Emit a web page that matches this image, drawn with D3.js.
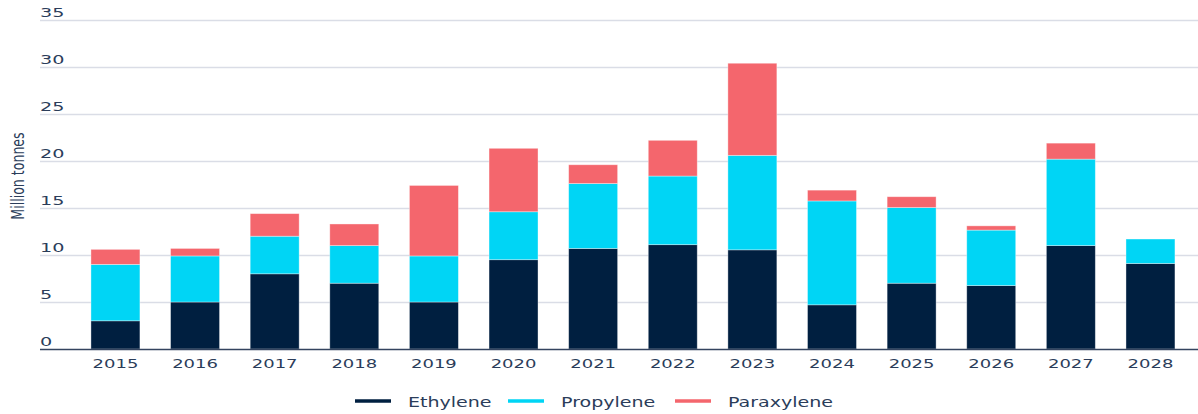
<!DOCTYPE html>
<html>
<head>
<meta charset="utf-8">
<script src="https://cdn.jsdelivr.net/npm/d3@7"></script>
<style>
  body { margin: 0; background: #fff; }
  svg { display: block; }
  text { font-family: 'DejaVu Sans', sans-serif; fill: #2b3d5a; }
</style>
</head>
<body>
<div class="container"></div>
<script>
var years = ['2015','2016','2017','2018','2019','2020','2021','2022','2023','2024','2025','2026','2027','2028']
var ethylene   = [3, 5, 8, 7, 5, 9.5, 10.7, 11.1, 10.55, 4.7, 7.0, 6.75, 11.0, 9.1]
var propylene  = [6, 4.9, 4, 4, 4.9, 5.1, 6.9, 7.3, 10.05, 11.05, 8.05, 5.9, 9.2, 2.6]
var paraxylene = [1.6, 0.8, 2.4, 2.3, 7.5, 6.75, 2.0, 3.8, 9.8, 1.15, 1.15, 0.45, 1.7, 0]
var seriesNames = ['Ethylene', 'Propylene', 'Paraxylene']
var colors = ['#001f40', '#00d5f5', '#f4666d']
var yTicks = [0, 5, 10, 15, 20, 25, 30, 35]

var width = 1198, height = 414

var svg = d3.select('.container').append('svg')
  .attr('width', width).attr('height', height)

var x = d3.scaleBand().domain(years).range([60.3, 1205.6]).padding(0.385)
var y = d3.scaleLinear().domain([0, 35]).range([349, 20])

// gridlines
svg.append('g').selectAll('line').data(yTicks.filter(d => d > 0)).join('line')
  .attr('x1', 40).attr('x2', width)
  .attr('y1', d => Math.round(y(d)) + 0.5).attr('y2', d => Math.round(y(d)) + 0.5)
  .attr('stroke', '#dadde6').attr('stroke-width', 1.3)

// the source font is wide, so labels get a horizontal stretch
svg.append('g').selectAll('text').data(yTicks).join('text')
  .attr('transform', d => `translate(40,${y(d) - 3}) scale(1.6,1)`)
  .attr('font-size', 12)
  .text(d => d)

// stacked bars
var table = years.map((yr, i) => ({year: yr, Ethylene: ethylene[i], Propylene: propylene[i], Paraxylene: paraxylene[i]}))
var stacked = d3.stack().keys(seriesNames)(table)

svg.append('g').selectAll('g').data(stacked).join('g')
  .attr('fill', (d, i) => colors[i])
  .selectAll('rect').data(d => d.filter(p => p[1] - p[0] > 0)).join('rect')
  .attr('x', d => x(d.data.year))
  .attr('width', x.bandwidth())
  .attr('y', d => y(d[1]))
  .attr('height', d => y(d[0]) - y(d[1]))
  .attr('stroke', 'rgba(255,255,255,0.45)').attr('stroke-width', 0.8)

// baseline
svg.append('line')
  .attr('x1', 40).attr('x2', width)
  .attr('y1', 349.5).attr('y2', 349.5)
  .attr('stroke', '#34445f').attr('stroke-width', 1.6)

svg.append('g').selectAll('text').data(years).join('text')
  .attr('transform', d => `translate(${x(d) + x.bandwidth() / 2},368) scale(1.5,1)`)
  .attr('text-anchor', 'middle').attr('font-size', 12)
  .text(d => d)

// y title
svg.append('text')
  .attr('transform', 'translate(24,176) rotate(-90) scale(0.74,1)')
  .attr('text-anchor', 'middle').attr('font-size', 17)
  .text('Million tonnes')

// legend
var legendX = [355, 508, 675]
var legend = svg.append('g').selectAll('g').data(seriesNames).join('g')
  .attr('transform', (d, i) => `translate(${legendX[i]},401)`)
legend.append('line')
  .attr('x1', 0).attr('x2', 36)
  .attr('stroke', (d, i) => colors[i]).attr('stroke-width', 3.5)
legend.append('text')
  .attr('transform', 'translate(53,6) scale(1.36,1)')
  .attr('font-size', 14)
  .text(d => d)
</script>
</body>
</html>
